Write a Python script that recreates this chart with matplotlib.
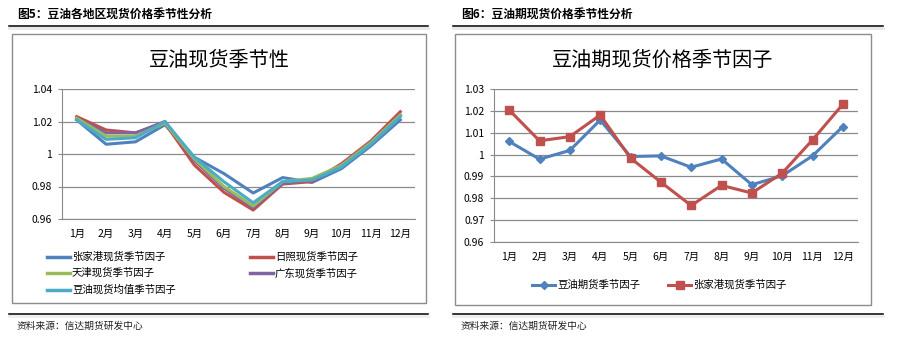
import matplotlib
matplotlib.use("Agg")
import matplotlib.pyplot as plt
from matplotlib.patches import Rectangle
from matplotlib.lines import Line2D

plt.rcParams['font.family'] = ['Noto Sans CJK SC', 'DejaVu Sans']

W, H = 905, 338

months = ['1月', '2月', '3月', '4月', '5月', '6月', '7月', '8月', '9月', '10月', '11月', '12月']

# left chart: regional spot seasonal factors
zhangjiagang = [1.021, 1.006, 1.0075, 1.018, 0.998, 0.988, 0.976, 0.9855, 0.9825, 0.991, 1.005, 1.021]
rizhao = [1.023, 1.0148, 1.013, 1.019, 0.9932, 0.9765, 0.9655, 0.9815, 0.983, 0.994, 1.008, 1.026]
tianjin = [1.022, 1.011, 1.011, 1.019, 0.997, 0.980, 0.968, 0.983, 0.985, 0.993, 1.007, 1.024]
guangdong = [1.022, 1.013, 1.013, 1.020, 0.996, 0.979, 0.967, 0.982, 0.984, 0.993, 1.007, 1.024]
average = [1.021, 1.009, 1.010, 1.020, 0.998, 0.983, 0.970, 0.983, 0.984, 0.992, 1.006, 1.023]
left_names = ['张家港现货季节因子', '日照现货季节因子', '天津现货季节因子', '广东现货季节因子', '豆油现货均值季节因子']
left_colors = ['#4F81BD', '#C0504D', '#9BBB59', '#8064A2', '#4BACC6']

# right chart: futures vs spot
futures = [1.0060, 0.9979, 1.0019, 1.0158, 0.9991, 0.9994, 0.9942, 0.9980, 0.9862, 0.9903, 0.9994, 1.0128]
zjg_spot = [1.0204, 1.0063, 1.0082, 1.0181, 0.9984, 0.9874, 0.9767, 0.9859, 0.9824, 0.9915, 1.0067, 1.0230]
right_names = ['豆油期货季节因子', '张家港现货季节因子']


def box(x0, y0, x1, y1):
    # pixel box (top-left origin) -> figure fraction rect
    return [x0 / W, 1 - y1 / H, (x1 - x0) / W, (y1 - y0) / H]


def fx(x):
    return x / W


def fy(y):
    return 1 - y / H


fig = plt.figure(figsize=(W / 100, H / 100), dpi=100)
fig.patch.set_facecolor('white')


def frame(x0, x1, bx0, bx1, by1, header, title):
    fig.text(fx(x0 + 8), fy(14), header, fontsize=8.5, fontweight='bold', va='center', ha='left')
    fig.add_artist(Line2D([fx(x0), fx(x1)], [fy(25.5), fy(25.5)], color='black', lw=1.1))
    fig.add_artist(Line2D([fx(x0), fx(x1)], [fy(27.5), fy(27.5)], color='#e8e8e8', lw=2))
    fig.add_artist(Rectangle((fx(bx0), fy(by1)), fx(bx1 - bx0), fy(34) - fy(by1),
                             fill=False, edgecolor='#8c8c8c', lw=1))
    fig.text(fx((bx0 + bx1) / 2), fy(60), title, fontsize=14.5, ha='center', va='center')
    fig.add_artist(Line2D([fx(x0), fx(x1)], [fy(314), fy(314)], color='black', lw=1.1))
    fig.add_artist(Line2D([fx(x0), fx(x1)], [fy(316), fy(316)], color='#eeeeee', lw=2))
    fig.text(fx(x0 + 8), fy(326), '资料来源：信达期货研发中心', fontsize=7, va='center', ha='left', color='#222222')


def style_axes(ax, ylim, yticks, ylabels):
    ax.set_xlim(-0.5, 11.5)
    ax.set_ylim(*ylim)
    ax.set_yticks(yticks)
    ax.set_yticklabels(ylabels)
    ax.set_xticks(range(12))
    ax.set_xticklabels(months)
    ax.grid(axis='y', color='#8a8a8a', lw=0.9)
    ax.set_axisbelow(True)
    for s in ['top', 'right']:
        ax.spines[s].set_visible(False)
    ax.spines['left'].set_color('#8a8a8a')
    ax.spines['bottom'].set_color('#8a8a8a')
    ax.tick_params(axis='y', length=3, color='#8a8a8a', labelsize=7.5, pad=4)
    ax.tick_params(axis='x', length=0, labelsize=7.5, pad=7)


# ---- left panel ----
frame(9, 428, 12, 426, 303, '图5：豆油各地区现货价格季节性分析', '豆油现货季节性')
ax1 = fig.add_axes(box(62, 89, 415, 219))
left_series = [zhangjiagang, rizhao, tianjin, guangdong, average]
order = [0, 1, 3, 2, 4]
for i in order:
    ax1.plot(range(12), left_series[i], color=left_colors[i], lw=2.2, solid_joinstyle='round')
style_axes(ax1, (0.96, 1.04), [0.96, 0.98, 1.0, 1.02, 1.04], ['0.96', '0.98', '1', '1.02', '1.04'])

leg_pos = [(47, 257), (250, 257), (47, 273), (250, 273), (47, 290)]
for i, (lx, ly) in enumerate(leg_pos):
    fig.add_artist(Line2D([fx(lx), fx(lx + 23)], [fy(ly), fy(ly)], color=left_colors[i], lw=2.5))
    fig.text(fx(lx + 25), fy(ly), left_names[i], fontsize=7.5, va='center', ha='left')

# ---- right panel ----
frame(453, 883, 455, 871, 305, '图6：豆油期现货价格季节性分析', '豆油期现货价格季节因子')
ax2 = fig.add_axes(box(494, 89, 858, 242))
ax2.plot(range(12), futures, color='#4F81BD', lw=2.2, marker='D', ms=4.5)
ax2.plot(range(12), zjg_spot, color='#C0504D', lw=2.2, marker='s', ms=6)
style_axes(ax2, (0.96, 1.03), [0.96, 0.97, 0.98, 0.99, 1.0, 1.01, 1.02, 1.03],
           ['0.96', '0.97', '0.98', '0.99', '1', '1.01', '1.02', '1.03'])

for (lx, name, col, mk, ms) in [(532, right_names[0], '#4F81BD', 'D', 4), (668, right_names[1], '#C0504D', 's', 5.5)]:
    fig.add_artist(Line2D([fx(lx), fx(lx + 23)], [fy(285), fy(285)], color=col, lw=2.2))
    fig.add_artist(Line2D([fx(lx + 11.5)], [fy(285)], color=col, marker=mk, ms=ms))
    fig.text(fx(lx + 25), fy(285), name, fontsize=7.5, va='center', ha='left')

fig.savefig('out.png', dpi=100)
